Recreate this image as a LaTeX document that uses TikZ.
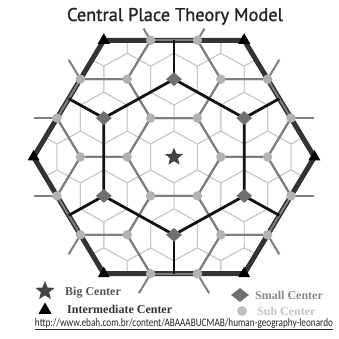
\documentclass[tikz,border=0pt]{standalone}
\usepackage{fontspec}
\setmainfont{Liberation Serif}
\newfontfamily\titlefont[FakeBold=1.3]{PT Sans}
\newfontfamily\urlfont{Carlito}
\usetikzlibrary{shapes.geometric}
\definecolor{lgray}{HTML}{C8C8C8}
\definecolor{dgray}{HTML}{7E7E7E}
\definecolor{hexdark}{HTML}{333333}
\definecolor{blk}{HTML}{121212}
\definecolor{stargray}{HTML}{444444}
\definecolor{smallgray}{HTML}{707070}
\definecolor{subgray}{HTML}{B2B2B2}
\definecolor{txtbig}{HTML}{555555}
\definecolor{txtint}{HTML}{333333}
\definecolor{txtsmall}{HTML}{8A8A8A}
\definecolor{txtsub}{HTML}{C2C2C2}
\begin{document}
\begin{tikzpicture}[x={(46.8pt,0pt)},y={(0pt,44.93pt)},
  lightline/.style={draw=lgray, line width=0.9pt},
  midline/.style={draw=dgray, line width=2pt},
  blackline/.style={draw=blk, line width=2.8pt, line join=round},
  bigline/.style={draw=hexdark, line width=5pt, line join=round},
  subc/.style={circle, fill=subgray, inner sep=0pt, minimum size=9.5pt},
  smallc/.style={diamond, fill=smallgray, inner sep=0pt, minimum width=16pt, minimum height=14pt},
  interc/.style={regular polygon, regular polygon sides=3, fill=black, inner sep=0pt, minimum size=14pt},
  bigc/.style={star, star points=5, star point ratio=2.3, fill=stargray, inner sep=0pt, minimum size=19pt},
  legtext/.style={anchor=base west, inner sep=0pt, font=\bfseries\fontsize{12pt}{14pt}\selectfont}
]
\useasboundingbox (-174pt,-182pt) rectangle (164pt,157pt);
\fill[white] (-174pt,-182pt) rectangle (164pt,157pt);

% big hexagon corners (intermediate centers)
\coordinate (T0) at (3,0);
\coordinate (T1) at (1.5,2.598);
\coordinate (T2) at (-1.5,2.598);
\coordinate (T3) at (-3,0);
\coordinate (T4) at (-1.5,-2.598);
\coordinate (T5) at (1.5,-2.598);
% small centers
\coordinate (D0) at (1.5,0.866);
\coordinate (D1) at (0,1.732);
\coordinate (D2) at (-1.5,0.866);
\coordinate (D3) at (-1.5,-0.866);
\coordinate (D4) at (0,-1.732);
\coordinate (D5) at (1.5,-0.866);
% big hexagon edge midpoints
\coordinate (M0) at (2.25,1.299);
\coordinate (M1) at (0,2.598);
\coordinate (M2) at (-2.25,1.299);
\coordinate (M3) at (-2.25,-1.299);
\coordinate (M4) at (0,-2.598);
\coordinate (M5) at (2.25,-1.299);
% sub centers on the big hexagon
\coordinate (Ba0) at (2.5,0.866);   \coordinate (Bb0) at (2,1.732);
\coordinate (Ba1) at (0.5,2.598);   \coordinate (Bb1) at (-0.5,2.598);
\coordinate (Ba2) at (-2,1.732);    \coordinate (Bb2) at (-2.5,0.866);
\coordinate (Ba3) at (-2.5,-0.866); \coordinate (Bb3) at (-2,-1.732);
\coordinate (Ba4) at (-0.5,-2.598); \coordinate (Bb4) at (0.5,-2.598);
\coordinate (Ba5) at (2,-1.732);    \coordinate (Bb5) at (2.5,-0.866);
% stub ends
\coordinate (Sa0) at (3,0.866);     \coordinate (Sb0) at (2.25,2.165);
\coordinate (Sa1) at (0.65,2.858);  \coordinate (Sb1) at (-0.65,2.858);
\coordinate (Sa2) at (-2.25,2.165); \coordinate (Sb2) at (-3,0.866);
\coordinate (Sa3) at (-3,-0.866);   \coordinate (Sb3) at (-2.25,-2.165);
\coordinate (Sa4) at (-0.75,-3.031);\coordinate (Sb4) at (0.75,-3.031);
\coordinate (Sa5) at (2.25,-2.165); \coordinate (Sb5) at (3,-0.866);

% light grey market areas of the finest lattice
\begin{scope}
\clip (T0)--(T1)--(T2)--(T3)--(T4)--(T5)--cycle;
\foreach \j in {-4,...,4} {
  \foreach \i in {-6,...,6} {
    \pgfmathsetmacro\cx{\i+0.5*\j}
    \pgfmathsetmacro\cy{0.8660254*\j}
    \draw[lightline, shift={(\cx,\cy)}] (0.5,0.288675)--(0,0.57735)--(-0.5,0.288675)--(-0.5,-0.288675)--(0,-0.57735)--(0.5,-0.288675)--cycle;
  }
}
% dark grey market areas
\foreach \m in {-3,...,3} {
  \foreach \n in {-4,...,4} {
    \pgfmathsetmacro\cx{1.5*\m}
    \pgfmathsetmacro\cy{0.8660254*\m+1.7320508*\n}
    \draw[midline, shift={(\cx,\cy)}] (1,0)--(0.5,0.8660254)--(-0.5,0.8660254)--(-1,0)--(-0.5,-0.8660254)--(0.5,-0.8660254)--cycle;
  }
}
\end{scope}

% big hexagon
\draw[bigline] (T0)--(T1)--(T2)--(T3)--(T4)--(T5)--cycle;

% dark grey pieces along the border and stubs
\foreach \k in {0,...,5} {
  \draw[midline] (Ba\k) -- (Bb\k);
  \draw[midline] (Ba\k) -- (Sa\k);
  \draw[midline] (Bb\k) -- (Sb\k);
}

% black market areas
\draw[blackline] (D0)--(D1)--(D2)--(D3)--(D4)--(D5)--cycle;
\foreach \k in {0,...,5} {
  \draw[blackline] (D\k) -- (M\k);
}

% sub centers
\foreach \x/\y [count=\c] in {0.5/2.598,-0.5/2.598,
  -2/1.732,-1/1.732,1/1.732,2/1.732,
  -2.5/0.866,-0.5/0.866,0.5/0.866,2.5/0.866,
  -2/0,-1/0,1/0,2/0,
  -2.5/-0.866,-0.5/-0.866,0.5/-0.866,2.5/-0.866,
  -2/-1.732,-1/-1.732,1/-1.732,2/-1.732,
  -0.5/-2.598,0.5/-2.598} {
  \node[subc] (sub\c) at (\x,\y) {};
}
\foreach \k in {0,...,5} {
  \node[smallc] (sc\k) at (D\k) {};
  \node[interc] (ic\k) at (T\k) {};
}
\node[bigc] (big) at (0,0) {};

% title
\node[anchor=base, inner sep=0pt, text=black!85] (title) at (1pt,136pt)
  {\resizebox{216pt}{!}{\titlefont\fontsize{17pt}{20pt}\selectfont Central Place Theory Model}};

% legend
\node[bigc, minimum size=20pt] (lbig) at (-129pt,-134pt) {};
\node[legtext, text=txtbig] (tbig) at (-109pt,-138pt) {Big Center};
\node[interc, minimum size=15pt] (lint) at (-129pt,-153pt) {};
\node[legtext, text=txtint] (tint) at (-107pt,-156pt) {Intermediate Center};
\node[smallc, minimum width=18pt, minimum height=14pt] (lsmall) at (66pt,-138pt) {};
\node[legtext, text=txtsmall] (tsmall) at (81pt,-142pt) {Small Center};
\node[subc, minimum size=10pt, fill=subgray!80] (lsub) at (68pt,-154pt) {};
\node[legtext, text=txtsub] (tsub) at (83pt,-158pt) {Sub Center};

% source
\node[anchor=base, inner sep=0pt, text=black!85] (url) at (10pt,-169pt)
  {\resizebox{298pt}{!}{\scalebox{1}[1.25]{\urlfont\fontsize{10pt}{12pt}\selectfont\underline{http://www.ebah.com.br/content/ABAAABUCMAB/human-geography-leonardo}}}};
\end{tikzpicture}
\end{document}
